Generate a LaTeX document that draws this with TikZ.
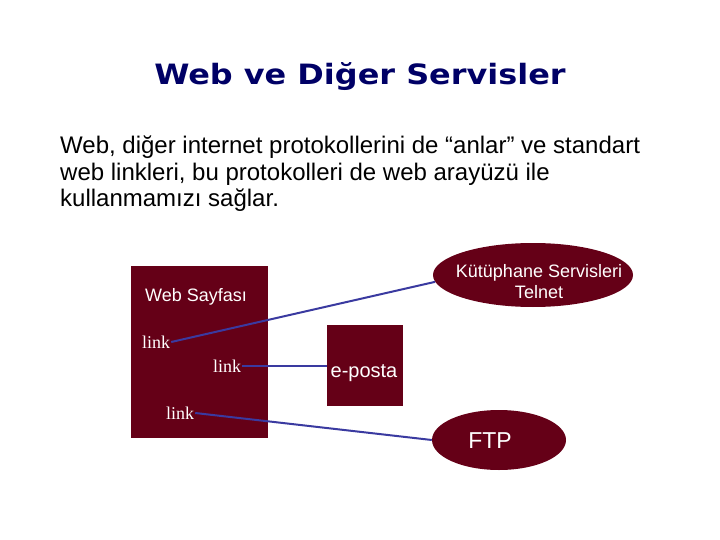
\documentclass[tikz,border=0pt]{standalone}
\usepackage{fontspec}
\setmainfont{Liberation Sans}
\newfontfamily\titlefont{DejaVu Sans}
\newfontfamily\seriffont{Liberation Serif}
\usetikzlibrary{shapes.geometric}
\definecolor{maroon}{HTML}{650017}
\definecolor{linkblue}{HTML}{3A3AA0}
\definecolor{navy}{HTML}{000066}
\tikzset{
  box/.style={draw=none, fill=maroon, inner sep=0pt, anchor=north west},
  oval/.style={ellipse, fill=maroon, inner sep=0pt},
  wtext/.style={text=white, inner sep=0pt, align=center},
  linktxt/.style={text=white, font=\seriffont\fontsize{18}{20}\selectfont, inner sep=1pt},
  conn/.style={draw=linkblue, line width=2pt},
  paratext/.style={anchor=base west, font=\fontsize{24}{26.5}\selectfont, inner sep=0pt},
}
\begin{document}
\begin{tikzpicture}[x=1pt,y=-1pt]
\useasboundingbox (0,0) rectangle (720,540);
\node[font=\titlefont\bfseries\fontsize{28}{30}\selectfont, text=navy, anchor=base, xscale=1.14, inner sep=0pt] (title) at (360,85) {Web ve Diğer Servisler};
\node[paratext] (para) at (60,154) {Web, diğer internet protokollerini de “anlar” ve standart};
\node[paratext] (para2) at (60,180.5) {web linkleri, bu protokolleri de web arayüzü ile};
\node[paratext] (para3) at (60,207) {kullanmamızı sağlar.};
\node[box, minimum width=137pt, minimum height=172pt] (web) at (131,266) {};
\node[wtext, font=\fontsize{18}{20}\selectfont, anchor=base west] (webt) at (145,301) {Web Sayfası};
\node[box, minimum width=76pt, minimum height=81pt] (mail) at (327,325) {};
\node[wtext, font=\fontsize{20}{22}\selectfont] (mailt) at (364,373) {e-posta};
\node[oval, minimum width=200pt, minimum height=64pt] (lib) at (533,275) {};
\node[wtext, font=\fontsize{18}{21}\selectfont] (libt) at (539,282) {Kütüphane Servisleri\\Telnet};
\node[oval, minimum width=134pt, minimum height=60pt] (ftp) at (499,440) {};
\node[wtext, font=\fontsize{23}{25}\selectfont] (ftpt) at (490,441) {FTP};
\node[linktxt] (l1) at (156,342) {link};
\node[linktxt] (l2) at (227,366) {link};
\node[linktxt] (l3) at (180,413) {link};
\draw[conn] (l1.east) -- (lib.184);
\draw[conn] (l2.east) -- (mail.west |- l2.east);
\draw[conn] (l3.east) -- (ftp.west);
\end{tikzpicture}
\end{document}
